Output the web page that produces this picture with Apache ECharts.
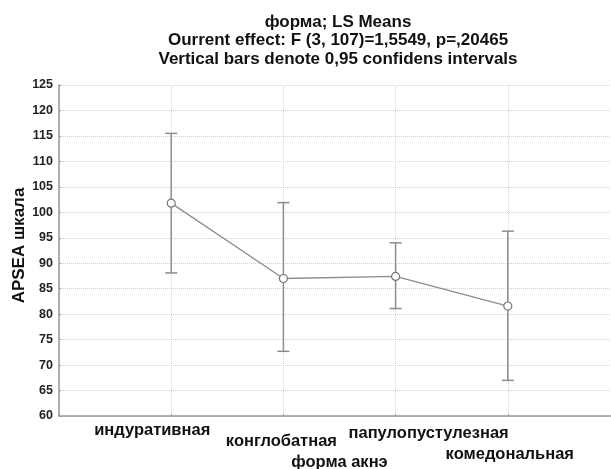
<!DOCTYPE html>
<html><head><meta charset="utf-8">
<script src="https://cdn.jsdelivr.net/npm/echarts@6/dist/echarts.min.js"></script>
<style>html,body{margin:0;padding:0;background:#fff}#c{width:611px;height:469px}</style>
</head><body><div id="c"></div>
<script>
const categories = ['индуративная', 'конглобатная', 'папулопустулезная', 'комедональная'];
const means = [101.8, 87.0, 87.4, 81.6];
const lower = [88.1, 72.7, 81.1, 67.0];
const upper = [115.5, 101.9, 94.0, 96.3];
const yTicks = [60, 65, 70, 75, 80, 85, 90, 95, 100, 105, 110, 115, 120, 125];
const titleLines = ['форма; LS Means', 'Ourrent effect: F (3, 107)=1,5549, p=,20465', 'Vertical bars denote 0,95 confidens intervals'];
const xTitle = 'форма акнэ';
const yTitle = 'APSEA шкала';

// label offsets [dx, dy] relative to tick (layout only)
const labelShift = [[-19, 0], [-2, 11], [33, 3], [2, 24]];

const axisData = [{value: ' '}].concat(categories.map((c, i) => {
  const [dx, dy] = labelShift[i];
  return {value: c, textStyle: {padding: [dy, dx < 0 ? -2 * dx : 0, 0, dx > 0 ? 2 * dx : 0]}};
})).concat([{value: '  '}]);

const FONT = 'Liberation Sans';
const grey = '#8c8c8c';
const chart = echarts.init(document.getElementById('c'));
chart.setOption({
  animation: false,
  backgroundColor: '#fff',
  title: {
    text: titleLines.join('\n'), left: 333, textAlign: 'center', top: 8,
    textStyle: {fontFamily: FONT, fontWeight: 'bold', fontSize: 17, lineHeight: 18.5, color: '#111'}
  },
  grid: {left: 59, right: -9, top: 85, bottom: 53, containLabel: false, outerBoundsMode: 'none'},
  xAxis: {
    type: 'category', data: axisData, boundaryGap: false,
    name: xTitle, nameLocation: 'middle', nameGap: 38, nameMoveOverlap: false,
    nameTextStyle: {fontFamily: FONT, fontWeight: 'bold', fontSize: 16.5, color: '#111'},
    axisLine: {lineStyle: {color: '#999', width: 1.5}},
    axisTick: {show: true, length: 2, inside: true, lineStyle: {color: '#999'}},
    axisLabel: {fontFamily: FONT, fontWeight: 'bold', fontSize: 16.5, color: '#111', margin: 6, interval: 0},
    splitLine: {show: true, lineStyle: {color: '#d8d8d8', type: 'dotted'}}
  },
  yAxis: {
    type: 'value', min: 60, max: 125, interval: 5,
    name: yTitle, nameLocation: 'middle', nameGap: 31, nameRotate: 90, nameMoveOverlap: false,
    nameTextStyle: {fontFamily: FONT, fontWeight: 'bold', fontSize: 17, color: '#111', padding: [0, 0, 0, 10]},
    axisLine: {show: true, lineStyle: {color: '#999', width: 1.5}},
    axisTick: {show: true, length: 2, inside: true, lineStyle: {color: '#999'}},
    axisLabel: {fontFamily: FONT, fontWeight: 'bold', fontSize: 12.5, color: '#222', margin: 6,
      formatter: v => yTicks.indexOf(v) >= 0 ? String(v) : ''},
    splitLine: {show: true, lineStyle: {color: '#cfcfcf', type: 'dotted'}}
  },
  series: [
    {
      type: 'custom',
      data: categories.map((c, i) => [c, lower[i], upper[i]]),
      renderItem: function (params, api) {
        const x = api.value(0);
        const lo = api.coord([x, api.value(1)]);
        const hi = api.coord([x, api.value(2)]);
        const w = 6;
        const st = {stroke: grey, lineWidth: 1.5};
        return {type: 'group', children: [
          {type: 'line', shape: {x1: lo[0], y1: lo[1], x2: hi[0], y2: hi[1]}, style: st},
          {type: 'line', shape: {x1: lo[0] - w, y1: lo[1], x2: lo[0] + w, y2: lo[1]}, style: st},
          {type: 'line', shape: {x1: hi[0] - w, y1: hi[1], x2: hi[0] + w, y2: hi[1]}, style: st}
        ]};
      },
      z: 2
    },
    {
      type: 'line',
      data: categories.map((c, i) => [c, means[i]]),
      symbol: 'circle', symbolSize: 8,
      lineStyle: {color: grey, width: 1.3},
      itemStyle: {color: '#fff', borderColor: '#777', borderWidth: 1.2},
      z: 3
    }
  ]
});
</script></body></html>
